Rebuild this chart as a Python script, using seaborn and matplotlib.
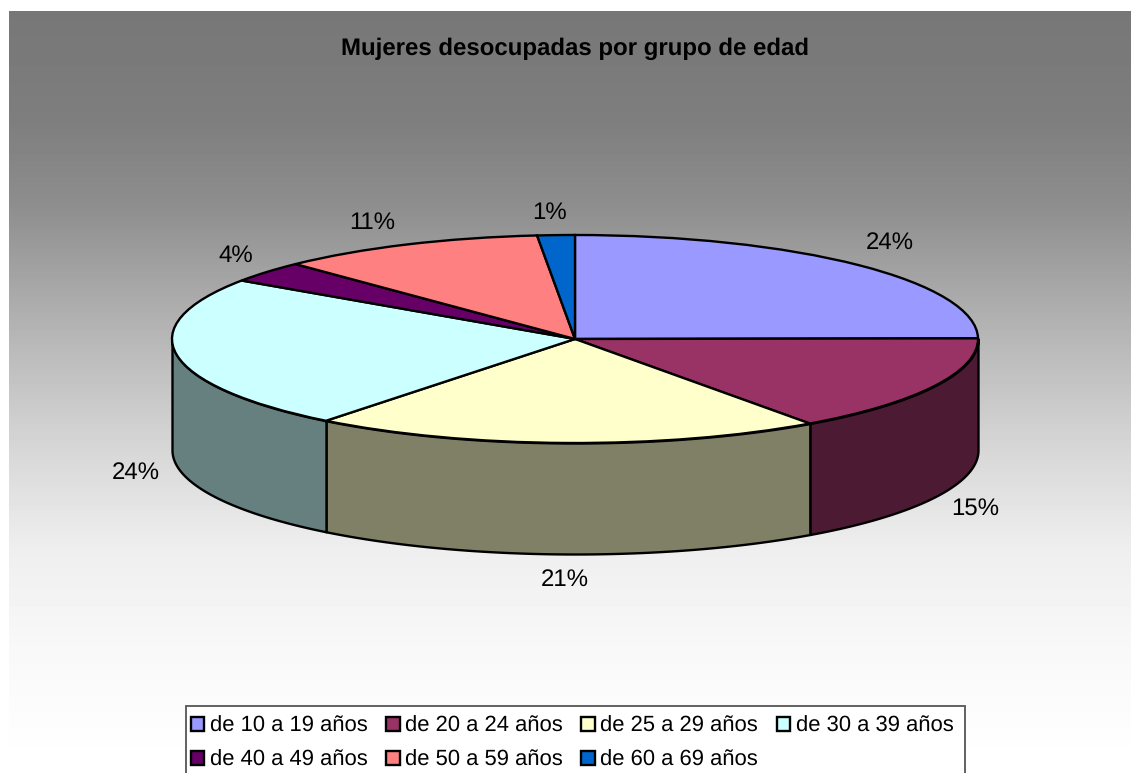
import numpy as np
import matplotlib
matplotlib.use("Agg")
import matplotlib.pyplot as plt
from matplotlib.patches import Patch, Rectangle
import seaborn as sns

# --- datos ---
grupos = ["de 10 a 19 años", "de 20 a 24 años", "de 25 a 29 años", "de 30 a 39 años",
          "de 40 a 49 años", "de 50 a 59 años", "de 60 a 69 años"]
# parte de cada sector tal como se ve en el disco (la perspectiva 3D estira un poco)
partes = [24.9, 15.2, 20.5, 23.9, 3.3, 10.7, 1.5]
etiquetas = ["24%", "15%", "21%", "24%", "4%", "11%", "1%"]
colores = ["#9999FF", "#993366", "#FFFFCC", "#CCFFFF", "#660066", "#FF8080", "#0066CC"]
titulo = "Mujeres desocupadas por grupo de edad"

# --- geometria en pixeles ---
W, H = 1131, 773
CX, CY, RX, RY, FONDO = 575, 339, 403, 104, 111
pos_etiquetas = [(890, 243), (975, 509), (565, 580), (136, 473), (236, 256), (372, 223), (550, 213)]
# degradado del fondo: fila -> gris
filas_fondo = [11, 120, 206, 280, 351, 450, 547, 645, 745, 773]
gris_fondo = [119, 126, 142, 165, 187, 215, 238, 248, 254, 255]

sns.set_theme(style="white")
plt.rcParams["font.family"] = ["Liberation Sans", "DejaVu Sans"]
plt.rcParams["text.hinting"] = "no_hinting"
plt.rcParams["text.hinting_factor"] = 1
paleta = sns.color_palette(colores)

def px(x, y):
    return x / W, 1 - y / H

fig = plt.figure(figsize=(W / 100, H / 100), dpi=100, facecolor="white")

# fondo degradado
x0, y0, x1, y1 = 9, 11, 1131, 773
ax_bg = fig.add_axes([x0 / W, 1 - y1 / H, (x1 - x0) / W, (y1 - y0) / H])
filas = np.arange(y0, y1)
ax_bg.imshow(np.interp(filas, filas_fondo, gris_fondo)[:, None], cmap="gray", vmin=0, vmax=255,
             aspect="auto")
ax_bg.axis("off")

ax = fig.add_axes([0, 0, 1, 1], facecolor="none")
ax.pie(partes, colors=paleta, startangle=90, counterclock=False, radius=1, normalize=True,
       wedgeprops=dict(edgecolor="black", linewidth=1.7))
ax.set_aspect("auto")
ax.set_xlim(-CX / RX, (W - CX) / RX)
ax.set_ylim((CY - H) / RY, CY / RY)
ax.axis("off")

# pared lateral: solo la parte delantera del disco
fondo = FONDO / RY
bordes = np.concatenate([[0], np.cumsum(partes)]) / sum(partes) * 360
for i, color in enumerate(paleta):
    a0, a1 = max(bordes[i], 90), min(bordes[i + 1], 270)
    if a1 <= a0:
        continue
    t = np.radians(np.linspace(a0, a1, 200))
    oscuro = tuple(c * 0.5 for c in color)
    ax.fill_between(np.sin(t), np.cos(t), np.cos(t) - fondo, facecolor=oscuro,
                    edgecolor="black", linewidth=1.7, zorder=0.5)

for texto, (x, y) in zip(etiquetas, pos_etiquetas):
    fx, fy = px(x, y)
    fig.text(fx, fy, texto, fontsize=17.3, color="black", ha="center", va="center")

fx, fy = px(575, 49)
fig.text(fx, fy, titulo, fontsize=17.5, fontweight="bold", color="black", ha="center", va="center")

# leyenda: el marco se sale por abajo de la imagen
lx, ly = px(186, 706)
fig.add_artist(Rectangle((lx, 1 - 800 / H), (965 - 186) / W, (800 - 706) / H,
                         transform=fig.transFigure, facecolor="white", edgecolor="#555555",
                         linewidth=1.3))
handles = [Patch(facecolor=c, edgecolor="black", linewidth=1.7) for c in paleta]
# matplotlib llena por columnas: este orden deja las filas como en el original
orden = [0, 4, 1, 5, 2, 6, 3]
lx2, ly2 = px(182, 707)
fig.legend([handles[i] for i in orden], [grupos[i] for i in orden], ncol=4, loc="upper left",
           bbox_to_anchor=(lx2, ly2), frameon=False, fontsize=15.8, labelcolor="black",
           handlelength=0.62, handleheight=0.62, handletextpad=0.25, columnspacing=0.84,
           labelspacing=0.62, borderpad=0.4, borderaxespad=0)

fig.savefig("out.png", dpi=100)
